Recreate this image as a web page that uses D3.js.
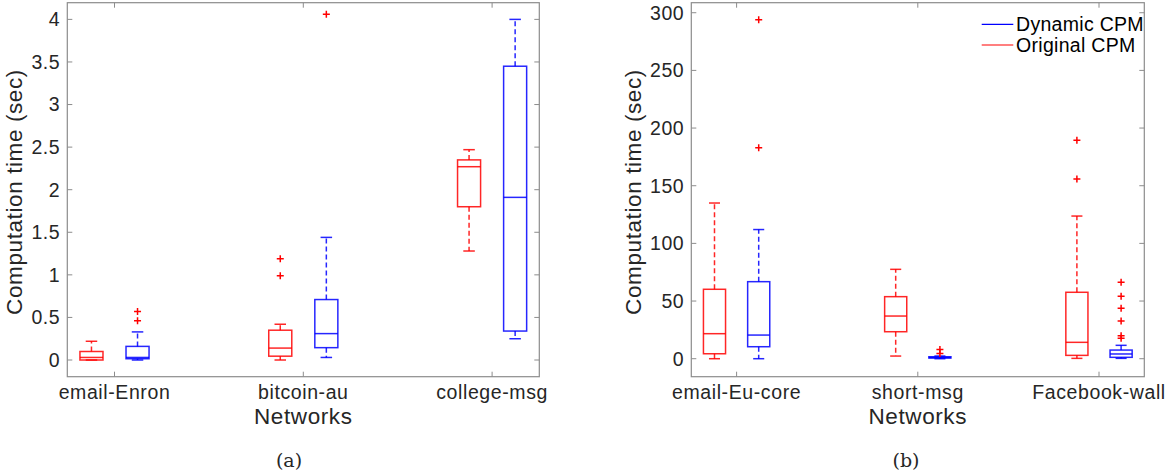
<!DOCTYPE html>
<html>
<head>
<meta charset="utf-8">
<script src="https://cdn.jsdelivr.net/npm/d3@7"></script>
<style>
  body { margin: 0; background: #fff; }
  text { font-family: "Liberation Sans", Arial, sans-serif; fill: #262626; }
</style>
</head>
<body>
<script>
// box stats: [lower whisker, q1, median, q3, upper whisker]
var networksA = ["email-Enron", "bitcoin-au", "college-msg"];
var originalA = [[0, 0, 0.03, 0.10, 0.22], [0, 0.045, 0.14, 0.35, 0.42], [1.28, 1.80, 2.27, 2.35, 2.47]];
var dynamicA = [[0, 0.015, 0.03, 0.16, 0.33], [0.03, 0.145, 0.31, 0.71, 1.44], [0.25, 0.34, 1.91, 3.45, 4.00]];
var outOrigA = [[], [1.19, 0.99], []];
var outDynA = [[0.57, 0.46], [4.06], []];
var ticksA = [0, 0.5, 1, 1.5, 2, 2.5, 3, 3.5, 4];

var networksB = ["email-Eu-core", "short-msg", "Facebook-wall"];
var originalB = [[0, 4.3, 21.7, 60.2, 135], [2.3, 23.4, 37, 53.8, 77.5], [0.3, 2.9, 14.2, 57.6, 123.7]];
var dynamicB = [[0, 10.4, 20.5, 66.8, 112], [0, 0.6, 1.0, 1.7, 2.3], [0.3, 1.2, 4.1, 7.5, 11.6]];
var outOrigB = [[], [], [189.4, 155.8]];
var outDynB = [[294, 183], [8, 4.5], [66.2, 54.1, 43.7, 32.7, 19.9, 17.7]];
var ticksB = [0, 50, 100, 150, 200, 250, 300];

var legendLabels = ["Dynamic CPM", "Original CPM"];
var red = "#ff0000", blue = "#0000ff", axisGray = "#8c8c8c";

var svg = d3.select("body").append("svg")
  .attr("width", 1166)
  .attr("height", 474);

var drawPanel = function(opts) {
  var x = d3.scaleLinear().domain([0.75, 3.25]).range([opts.left, opts.right]);
  var y = d3.scaleLinear().domain(opts.yDomain).range([376.7, 2.7]);
  var g = svg.append("g");
  var off = 0.122, bw = 0.122;

  // axes box
  g.append("rect")
    .attr("x", opts.left).attr("y", 2.7)
    .attr("width", opts.right - opts.left).attr("height", 374)
    .attr("fill", "none").attr("stroke", axisGray).attr("stroke-width", 1.2);

  // y ticks (inward, both sides) + labels
  opts.ticks.forEach(function(t) {
    g.append("line").attr("x1", opts.left).attr("x2", opts.left + 5)
      .attr("y1", y(t)).attr("y2", y(t)).attr("stroke", axisGray);
    g.append("line").attr("x1", opts.right).attr("x2", opts.right - 5)
      .attr("y1", y(t)).attr("y2", y(t)).attr("stroke", axisGray);
    g.append("text").attr("x", opts.left - 7).attr("y", y(t))
      .attr("dy", "0.35em").attr("text-anchor", "end")
      .style("font-size", "19.5px").style("letter-spacing", "0.6px")
      .text(t);
  });

  // x ticks + labels
  opts.names.forEach(function(n, i) {
    g.append("line").attr("x1", x(i + 1)).attr("x2", x(i + 1))
      .attr("y1", 376.7).attr("y2", 371.7).attr("stroke", axisGray);
    g.append("line").attr("x1", x(i + 1)).attr("x2", x(i + 1))
      .attr("y1", 2.7).attr("y2", 7.7).attr("stroke", axisGray);
    g.append("text").attr("x", x(i + 1)).attr("y", 399)
      .attr("text-anchor", "middle")
      .style("font-size", "19.5px").style("letter-spacing", "0.6px")
      .text(n);
  });

  g.append("text").attr("x", x(2)).attr("y", 424)
    .attr("text-anchor", "middle")
    .style("font-size", "22.5px").style("letter-spacing", "0.6px")
    .text("Networks");

  g.append("text")
    .attr("transform", "translate(" + opts.yLabelX + "," + 192 + ") rotate(-90)")
    .attr("text-anchor", "middle")
    .style("font-size", "22.5px").style("letter-spacing", "0.6px")
    .text("Computation time (sec)");

  g.append("text").attr("x", opts.capX).attr("y", 467)
    .attr("text-anchor", "middle")
    .style("font-family", "'DejaVu Serif', 'Liberation Serif', serif")
    .style("font-size", "19px")
    .text(opts.caption);

  var drawBoxes = function(stats, outs, shift, color) {
    stats.forEach(function(s, i) {
      var cx = x(i + 1 + shift);
      var x0 = x(i + 1 + shift - bw / 2), x1 = x(i + 1 + shift + bw / 2);
      var c0 = x(i + 1 + shift - bw / 4), c1 = x(i + 1 + shift + bw / 4);
      var bg = g.append("g").attr("stroke", color).attr("fill", "none")
        .attr("stroke-width", 1.5).attr("stroke-opacity", 0.85);
      // whiskers
      bg.append("line").attr("x1", cx).attr("x2", cx)
        .attr("y1", y(s[3])).attr("y2", y(s[4])).attr("stroke-dasharray", "5,3");
      bg.append("line").attr("x1", cx).attr("x2", cx)
        .attr("y1", y(s[1])).attr("y2", y(s[0])).attr("stroke-dasharray", "5,3");
      bg.append("line").attr("x1", c0).attr("x2", c1)
        .attr("y1", y(s[4])).attr("y2", y(s[4]));
      bg.append("line").attr("x1", c0).attr("x2", c1)
        .attr("y1", y(s[0])).attr("y2", y(s[0]));
      // box + median
      bg.append("rect").attr("x", x0).attr("y", y(s[3]))
        .attr("width", x1 - x0).attr("height", Math.max(y(s[1]) - y(s[3]), 0.5));
      bg.append("line").attr("x1", x0).attr("x2", x1)
        .attr("y1", y(s[2])).attr("y2", y(s[2]));
      // outliers
      outs[i].forEach(function(v) {
        g.append("path")
          .attr("d", "M" + (cx - 3.5) + "," + y(v) + "h7M" + cx + "," + (y(v) - 3.5) + "v7")
          .attr("stroke", red).attr("stroke-width", 1.5);
      });
    });
  };

  drawBoxes(opts.orig, opts.outOrig, -off, red);
  drawBoxes(opts.dyn, opts.outDyn, off, blue);
  return g;
};

drawPanel({
  left: 67.3, right: 539.3, yDomain: [-0.196, 4.196], ticks: ticksA,
  names: networksA, orig: originalA, dyn: dynamicA, outOrig: outOrigA, outDyn: outDynA,
  yLabelX: 22, capX: 289, caption: "(a)"
});

var gB = drawPanel({
  left: 691.3, right: 1144.3, yDomain: [-15.6, 308.7], ticks: ticksB,
  names: networksB, orig: originalB, dyn: dynamicB, outOrig: outOrigB, outDyn: outDynB,
  yLabelX: 641, capX: 906, caption: "(b)"
});

// legend
var legend = gB.append("g");
[blue, red].forEach(function(c, i) {
  legend.append("line").attr("x1", 981.7).attr("x2", 1013.3)
    .attr("y1", 24.3 + i * 20.7).attr("y2", 24.3 + i * 20.7)
    .attr("stroke", c).attr("stroke-width", 1.2);
  legend.append("text").attr("x", 1016).attr("y", 24.3 + i * 20.7)
    .attr("dy", "0.35em")
    .style("font-size", "19.5px").style("letter-spacing", "0.3px")
    .style("fill", "#000")
    .text(legendLabels[i]);
});
</script>
</body>
</html>
